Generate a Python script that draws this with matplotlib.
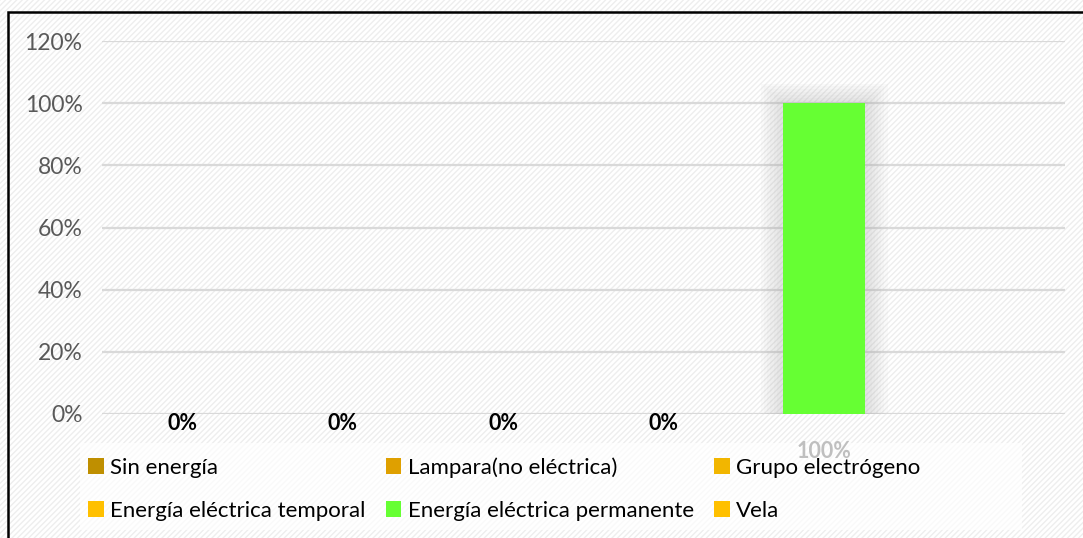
import numpy as np
import matplotlib
matplotlib.use("Agg")
import matplotlib.pyplot as plt
from matplotlib.patches import Rectangle

# datos
categorias = ["Sin energía", "Lampara(no eléctrica)", "Grupo electrógeno",
              "Energía eléctrica temporal", "Energía eléctrica permanente", "Vela"]
valores = [0, 0, 0, 0, 100, np.nan]
colores = ["#BF8F00", "#DFA000", "#F2B600", "#FFC000", "#66FF33", "#FFC000"]
yticks = [0, 20, 40, 60, 80, 100, 120]
ytick_labels = ["0%", "20%", "40%", "60%", "80%", "100%", "120%"]

plt.rcParams['font.family'] = ['Lato', 'DejaVu Sans']

W, H = 1083, 538
fig = plt.figure(figsize=(W / 100, H / 100), dpi=100)
fig.patch.set_facecolor("white")

# fondo rayado
fondo = Rectangle((0, 0), 1, 1, transform=fig.transFigure, facecolor="white",
                  edgecolor="#eeeeee", hatch="//////", linewidth=0, zorder=-10)
fig.patches.append(fondo)
# caja de la leyenda (semi transparente)
caja = Rectangle((80 / W, 1 - 530 / H), (1022 - 80) / W, (530 - 443) / H,
                 transform=fig.transFigure, facecolor="white", alpha=0.7,
                 linewidth=0, zorder=-5)
fig.patches.append(caja)
# marco negro
marco = Rectangle((8 / W, -0.05), 1.1, 1 - 11.5 / H + 0.05, transform=fig.transFigure,
                  facecolor="none", edgecolor="black", linewidth=1.8, zorder=10)
fig.patches.append(marco)

ax = fig.add_axes([102 / W, 1 - 414 / H, (1065 - 102) / W, (414 - 41) / H])
ax.set_facecolor("none")

x = np.arange(len(categorias))
ancho = 0.51
handles = []
for i, (c, v, col) in enumerate(zip(categorias, valores, colores)):
    if not np.isnan(v) and v > 0:
        # sombra difusa
        for k in range(8):
            ax.bar(x[i], v + 0.9 * k, width=ancho + 0.04 * k, color="#a0a0a0",
                   alpha=0.045, linewidth=0, zorder=1)
    b = ax.bar(x[i], 0 if np.isnan(v) else v, width=ancho, color=col, label=c, zorder=3)
    handles.append(b)
    if not np.isnan(v):
        off = -10 if v == 0 else -38
        ax.annotate(f"{v:.0f}%", (x[i], 0), xytext=(0, off), textcoords="offset pixels",
                    ha="center", va="center", fontsize=15.5, fontweight="bold",
                    color="black" if v == 0 else "#bfbfbf", zorder=2,
                    annotation_clip=False)

ax.set_xlim(-0.5, 5.5)
ax.set_ylim(0, 120)
ax.set_yticks(yticks)
ax.set_yticklabels(ytick_labels)
ax.set_xticks([])
ax.tick_params(axis="y", length=0, pad=14, labelsize=16.5, labelcolor="#595959")
ax.grid(axis="y", color="#d9d9d9", linewidth=1.6, zorder=0)
ax.set_axisbelow(True)
for s in ax.spines.values():
    s.set_visible(False)

# leyenda en 2 filas x 3 columnas
orden = [0, 3, 1, 4, 2, 5]
leg = fig.legend([handles[i] for i in orden], [categorias[i] for i in orden],
                 ncol=3, loc="upper left", bbox_to_anchor=(68 / W, 1 - 437 / H),
                 frameon=False, fontsize=16, handlelength=0.7,
                 handleheight=0.7, handletextpad=0.3, labelspacing=1.05,
                 borderpad=0.4, columnspacing=0.9)

fig.savefig("out.png", dpi=100)
